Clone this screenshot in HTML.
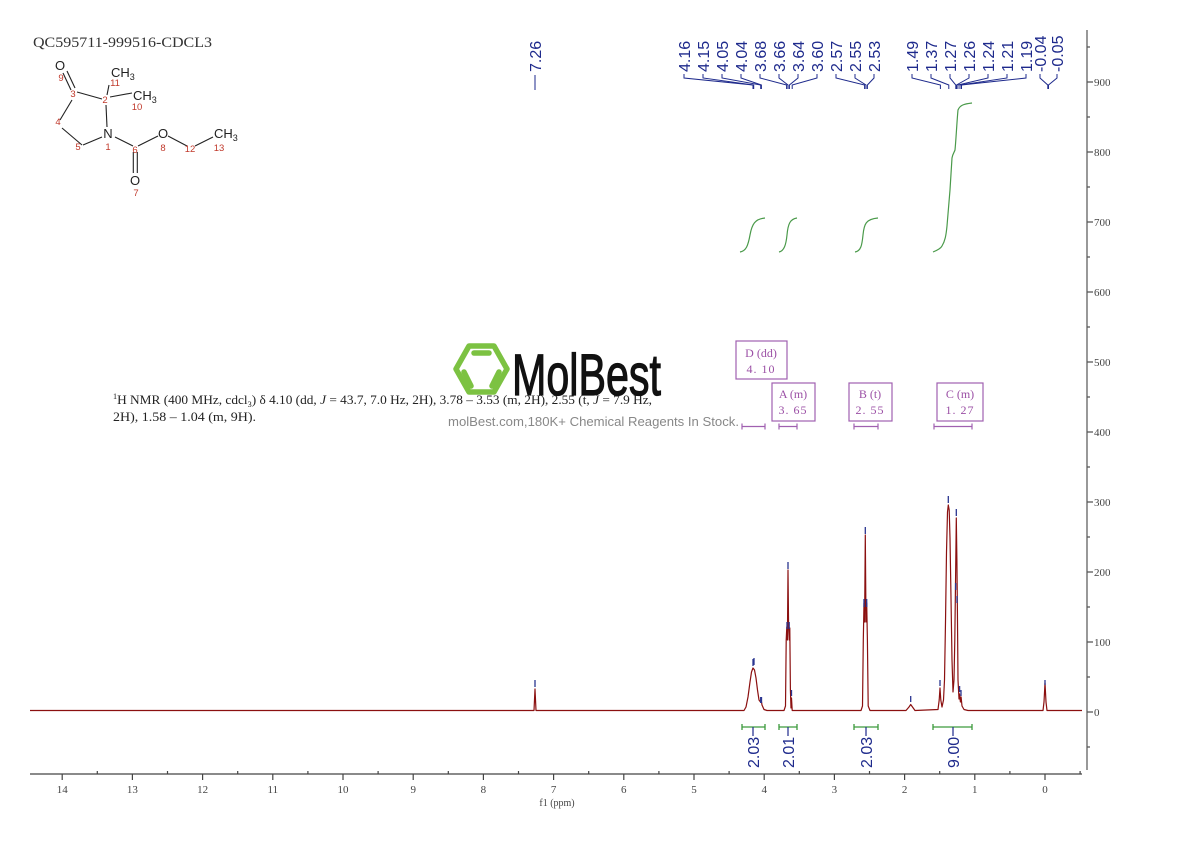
<!DOCTYPE html>
<html><head><meta charset="utf-8"><style>
html,body{margin:0;padding:0;background:#fff;}
svg{display:block;}
.ax{font-family:"Liberation Serif",serif;font-size:11px;fill:#444;}
.pl{font-family:"Liberation Sans",sans-serif;font-size:16px;fill:#1e2a8c;}
.pu{font-family:"Liberation Serif","Noto Serif CJK SC",serif;font-size:12px;fill:#9b4fa5;}
.at{font-family:"Liberation Sans",sans-serif;font-size:13px;fill:#222;}
.nu{font-family:"Liberation Sans",sans-serif;font-size:9.5px;fill:#c0392b;}
</style></head><body>
<svg width="1190" height="841" viewBox="0 0 1190 841" xmlns="http://www.w3.org/2000/svg">
<rect width="1190" height="841" fill="#fff"/>

<!-- Title -->
<text x="33" y="47" font-family="Liberation Serif,serif" font-size="15" fill="#333" textLength="179" lengthAdjust="spacingAndGlyphs">QC595711-999516-CDCL3</text>

<!-- Structure -->
<g stroke="#222" stroke-width="1.1" fill="none">
<line x1="63" y1="73" x2="71" y2="90"/>
<line x1="67" y1="71" x2="75" y2="88"/>
<line x1="77" y1="92" x2="102" y2="99"/>
<line x1="107" y1="95" x2="109" y2="85"/>
<line x1="110" y1="97" x2="132" y2="93"/>
<line x1="106" y1="105" x2="107" y2="127"/>
<line x1="72" y1="100" x2="60" y2="120"/>
<line x1="62" y1="128" x2="82" y2="145"/>
<line x1="83" y1="145" x2="102" y2="137"/>
<line x1="115" y1="137" x2="133" y2="146"/>
<line x1="138" y1="146" x2="158" y2="136"/>
<line x1="168" y1="136" x2="187" y2="146"/>
<line x1="195" y1="146" x2="213" y2="137"/>
<line x1="133.3" y1="152" x2="133.3" y2="173"/>
<line x1="137.3" y1="152" x2="137.3" y2="173"/>
</g>
<text class="at" x="60" y="70" text-anchor="middle">O</text>
<text class="at" x="111" y="77">CH<tspan font-size="9" dy="3">3</tspan></text>
<text class="at" x="133" y="100">CH<tspan font-size="9" dy="3">3</tspan></text>
<text class="at" x="108" y="138" text-anchor="middle">N</text>
<text class="at" x="163" y="138" text-anchor="middle">O</text>
<text class="at" x="214" y="138">CH<tspan font-size="9" dy="3">3</tspan></text>
<text class="at" x="135" y="185" text-anchor="middle">O</text>
<text class="nu" x="61" y="81" text-anchor="middle">9</text>
<text class="nu" x="73" y="97" text-anchor="middle">3</text>
<text class="nu" x="105" y="103" text-anchor="middle">2</text>
<text class="nu" x="115" y="86" text-anchor="middle">11</text>
<text class="nu" x="137" y="110" text-anchor="middle">10</text>
<text class="nu" x="58" y="125" text-anchor="middle">4</text>
<text class="nu" x="78" y="150" text-anchor="middle">5</text>
<text class="nu" x="108" y="150" text-anchor="middle">1</text>
<text class="nu" x="135" y="153" text-anchor="middle">6</text>
<text class="nu" x="163" y="151" text-anchor="middle">8</text>
<text class="nu" x="190" y="152" text-anchor="middle">12</text>
<text class="nu" x="219" y="151" text-anchor="middle">13</text>
<text class="nu" x="136" y="196" text-anchor="middle">7</text>

<!-- NMR description -->
<text x="113" y="404" font-family="Liberation Serif,serif" font-size="13" fill="#222" textLength="539" lengthAdjust="spacingAndGlyphs"><tspan font-size="8" dy="-5">1</tspan><tspan dy="5">H NMR (400 MHz, cdcl</tspan><tspan font-size="8" dy="3">3</tspan><tspan dy="-3">) δ 4.10 (dd, </tspan><tspan font-style="italic">J</tspan> = 43.7, 7.0 Hz, 2H), 3.78 – 3.53 (m, 2H), 2.55 (t, <tspan font-style="italic">J</tspan> = 7.9 Hz,</text>
<text x="113" y="421" font-family="Liberation Serif,serif" font-size="13" fill="#222" textLength="143" lengthAdjust="spacingAndGlyphs">2H), 1.58 – 1.04 (m, 9H).</text>

<!-- Logo -->
<g stroke="#7cc242" stroke-width="5.5" fill="none" stroke-linejoin="round">
<polygon points="456,369 469,346 494,346 507,369 494,392 469,392"/>
<line x1="474" y1="353" x2="489" y2="353" stroke-linecap="round"/>
<line x1="464" y1="372" x2="471" y2="386" stroke-linecap="round"/>
<line x1="499" y1="372" x2="492" y2="386" stroke-linecap="round"/>
</g>
<text x="512" y="395" font-family="Liberation Sans,sans-serif" font-size="58" fill="#111" stroke="#111" stroke-width="1.2" textLength="149" lengthAdjust="spacingAndGlyphs">MolBest</text>
<text x="448" y="426" font-family="Liberation Sans,sans-serif" font-size="13" fill="#888" textLength="291" lengthAdjust="spacingAndGlyphs">molBest.com,180K+ Chemical Reagents In Stock.</text>

<!-- Multiplet boxes -->
<g stroke="#a060b0" stroke-width="1.2" fill="#fff">
<rect x="736" y="341" width="51" height="38"/>
<rect x="772" y="383" width="43" height="38"/>
<rect x="849" y="383" width="43" height="38"/>
<rect x="937" y="383" width="46" height="38"/>
</g>
<text class="pu" x="761" y="357" text-anchor="middle">D (dd)</text>
<text class="pu" x="761" y="373" text-anchor="middle" letter-spacing="1">4. 10</text>
<text class="pu" x="793" y="398" text-anchor="middle">A (m)</text>
<text class="pu" x="793" y="414" text-anchor="middle" letter-spacing="1">3. 65</text>
<text class="pu" x="870" y="398" text-anchor="middle">B (t)</text>
<text class="pu" x="870" y="414" text-anchor="middle" letter-spacing="1">2. 55</text>
<text class="pu" x="960" y="398" text-anchor="middle">C (m)</text>
<text class="pu" x="960" y="414" text-anchor="middle" letter-spacing="1">1. 27</text>
<g stroke="#a060b0" stroke-width="1.2">
<path d="M742,426.5H765M742,423.5V429.5M765,423.5V429.5"/>
<path d="M779,426.5H797M779,423.5V429.5M797,423.5V429.5"/>
<path d="M854,426.5H878M854,423.5V429.5M878,423.5V429.5"/>
<path d="M934,426.5H972M934,423.5V429.5M972,423.5V429.5"/>
</g>

<!-- Right axis -->
<g stroke="#555" stroke-width="1.2">
<line x1="1087" y1="30" x2="1087" y2="770"/>
<path d="M1087,82H1093M1087,152H1093M1087,222H1093M1087,292H1093M1087,362H1093M1087,432H1093M1087,502H1093M1087,572H1093M1087,642H1093M1087,712H1093"/>
<path d="M1087,47H1090M1087,117H1090M1087,187H1090M1087,257H1090M1087,327H1090M1087,397H1090M1087,467H1090M1087,537H1090M1087,607H1090M1087,677H1090M1087,747H1090"/>
</g>
<g class="ax" font-size="10.5">
<text x="1094" y="86">900</text><text x="1094" y="156">800</text><text x="1094" y="226">700</text>
<text x="1094" y="296">600</text><text x="1094" y="366">500</text><text x="1094" y="436">400</text>
<text x="1094" y="506">300</text><text x="1094" y="576">200</text><text x="1094" y="646">100</text>
<text x="1094" y="716">0</text>
</g>

<!-- X axis -->
<g stroke="#444" stroke-width="1.2">
<line x1="30" y1="774" x2="1082" y2="774"/>
<path d="M1045,774v6M974.8,774v6M904.6,774v6M834.4,774v6M764.2,774v6M694,774v6M623.8,774v6M553.6,774v6M483.4,774v6M413.2,774v6M343,774v6M272.8,774v6M202.6,774v6M132.4,774v6M62.2,774v6"/>
<path d="M1080.1,774v-3M1009.9,774v-3M939.7,774v-3M869.5,774v-3M799.3,774v-3M729.1,774v-3M658.9,774v-3M588.7,774v-3M518.5,774v-3M448.3,774v-3M378.1,774v-3M307.9,774v-3M237.7,774v-3M167.5,774v-3M97.3,774v-3"/>
</g>
<g class="ax" text-anchor="middle">
<text x="1045" y="793">0</text><text x="974.8" y="793">1</text><text x="904.6" y="793">2</text>
<text x="834.4" y="793">3</text><text x="764.2" y="793">4</text><text x="694" y="793">5</text>
<text x="623.8" y="793">6</text><text x="553.6" y="793">7</text><text x="483.4" y="793">8</text>
<text x="413.2" y="793">9</text><text x="343" y="793">10</text><text x="272.8" y="793">11</text>
<text x="202.6" y="793">12</text><text x="132.4" y="793">13</text><text x="62.2" y="793">14</text>
<text x="557" y="806" font-size="10">f1 (ppm)</text>
</g>

<!-- Spectrum -->
<path fill="none" stroke="#8b1010" stroke-width="1.2" stroke-linejoin="round" d="
M30,710.5 L534,710.5 L535,689 L536,710.5 L744,710.5
L746,707 L748,697 L750,682 L751.5,672 L753,668 L754.5,670 L756,678 L757.5,690 L759,700 L760.5,702 L761,699 L762,705 L764,709.5 L767,710.5
L784,710.5 L785.5,706 L786.2,640 L786.8,627 L787.4,640 L788,570 L788.6,627 L789.2,640 L789.8,628 L790.4,690 L791,708 L791.5,698 L792.2,710.5
L861,710.5 L862.5,706 L863.3,640 L864,603 L864.6,622 L865.3,535 L866,622 L866.7,603 L867.4,640 L868.2,706 L870,710.5
L906,710.5 L909,707 L910.7,704.5 L912.5,707 L915,710.5
L938,709.5 L939.2,700 L940,688 L940.8,700 L942,707 L943.5,700 L944.5,680 L945.5,622 L946.5,552 L947.5,512 L948.3,505 L949.2,510 L950,538 L951,598 L952,660 L953,692 L954,680 L954.8,640 L955.3,600 L955.8,560 L956.3,518 L956.9,560 L957.4,610 L958,680 L959,699 L959.6,694 L960.4,702 L961.1,697 L962,706 L964,709.5 L968,710.5
L1043,710.5 L1044,702 L1045,683 L1046,702 L1047,710.5 L1082,710.5"/>

<!-- Peak markers -->
<g stroke="#2a3590" stroke-width="1.3">
<path d="M535,680v7M753,659v7M754,658v7M760.7,697v6M761.5,697v6M788,562v7M787,622v7M789.2,622v7M791.5,690v6
M865.3,527v7M864,599v8M866.7,599v8M910.7,696v6M940,680v6M948.3,496v7M956.3,509v7M955.6,583v7M957,596v7M959.6,686v6M961,690v6M1045,680v5"/>
</g>

<!-- Integral curves -->
<g fill="none" stroke="#4a9a4a" stroke-width="1.2">
<path d="M740,252 C746,251 748,246 750,235 C752,224 755,219 765,218"/>
<path d="M779,252 C784,251 786,245 787,235 C788,224 790,219 797,218"/>
<path d="M855,252 C861,251 862,245 863,235 C864,224 866,219 878,218"/>
<path d="M933,252 C938,250 941,248 942,246 C945,241 946,236 947,226 L950,190 L952,158 C953,153 954,153 955,150 C956,140 957,120 958,110 C960,105 964,104 972,103"/>
</g>

<!-- Integration bars -->
<g stroke="#3c9a3c" stroke-width="1.3">
<path d="M742,727H765M742,724V730M765,724V730"/>
<path d="M779,727H797M779,724V730M797,724V730"/>
<path d="M854,727H878M854,724V730M878,724V730"/>
<path d="M933,727H972M933,724V730M972,724V730"/>
</g>
<g stroke="#1e2a8c" stroke-width="1.2">
<path d="M753,727v9M788,727v9M866,727v9M953,727v9"/>
</g>
<g class="pl">
<text transform="translate(759,768) rotate(-90)">2.03</text>
<text transform="translate(794,768) rotate(-90)">2.01</text>
<text transform="translate(872,768) rotate(-90)">2.03</text>
<text transform="translate(959,768) rotate(-90)">9.00</text>
</g>

<!-- Top peak labels -->
<g class="pl">
<text transform="translate(541,72) rotate(-90)">7.26</text>
<text transform="translate(690,72) rotate(-90)">4.16</text>
<text transform="translate(709,72) rotate(-90)">4.15</text>
<text transform="translate(728,72) rotate(-90)">4.05</text>
<text transform="translate(747,72) rotate(-90)">4.04</text>
<text transform="translate(766,72) rotate(-90)">3.68</text>
<text transform="translate(785,72) rotate(-90)">3.66</text>
<text transform="translate(804,72) rotate(-90)">3.64</text>
<text transform="translate(823,72) rotate(-90)">3.60</text>
<text transform="translate(842,72) rotate(-90)">2.57</text>
<text transform="translate(861,72) rotate(-90)">2.55</text>
<text transform="translate(880,72) rotate(-90)">2.53</text>
<text transform="translate(918,72) rotate(-90)">1.49</text>
<text transform="translate(937,72) rotate(-90)">1.37</text>
<text transform="translate(956,72) rotate(-90)">1.27</text>
<text transform="translate(975,72) rotate(-90)">1.26</text>
<text transform="translate(994,72) rotate(-90)">1.24</text>
<text transform="translate(1013,72) rotate(-90)">1.21</text>
<text transform="translate(1032,72) rotate(-90)">1.19</text>
<text transform="translate(1046,72) rotate(-90)">-0.04</text>
<text transform="translate(1063,72) rotate(-90)">-0.05</text>
</g>
<g fill="none" stroke="#1e2a8c" stroke-width="1">
<path d="M535,75V90"/>
<path d="M684,74V78L753,85V89"/>
<path d="M703,74V78L753.7,85V89"/>
<path d="M722,74V78L760.7,85V89"/>
<path d="M741,74V78L761.4,85V89"/>
<path d="M760,74V78L786.6,85V89"/>
<path d="M779,74V78L788,85V89"/>
<path d="M798,74V78L789.4,85V89"/>
<path d="M817,74V78L792.2,85V89"/>
<path d="M836,74V78L864.6,85V89"/>
<path d="M855,74V78L866,85V89"/>
<path d="M874,74V78L867.4,85V89"/>
<path d="M912,74V78L940.4,85V89"/>
<path d="M931,74V78L948.8,85V89"/>
<path d="M950,74V78L955.8,85V89"/>
<path d="M969,74V78L956.5,85V89"/>
<path d="M988,74V78L957.9,85V89"/>
<path d="M1007,74V78L960,85V89"/>
<path d="M1026,74V78L961.5,85V89"/>
<path d="M1040,74V78L1047.8,85V89"/>
<path d="M1057,74V78L1048.5,85V89"/>
</g>
</svg>
</body></html>
